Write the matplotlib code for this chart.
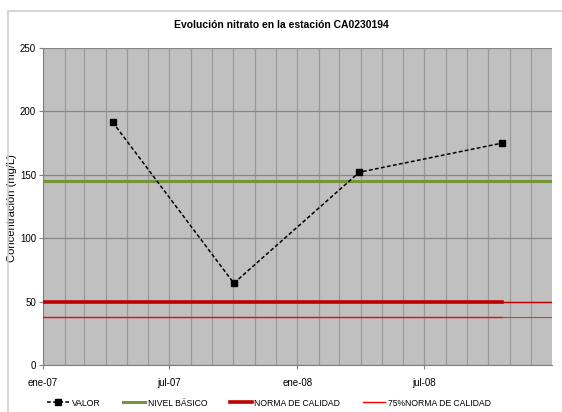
import matplotlib.pyplot as plt
import matplotlib.dates as mdates
from matplotlib.patches import Rectangle
import pandas as pd

plt.rcParams['font.family'] = ['Liberation Sans Narrow', 'Liberation Sans', 'DejaVu Sans']

# Data
fechas = pd.to_datetime(["2007-04-11", "2007-10-02", "2008-03-30", "2008-10-21"])
valor = [191.5, 64.5, 152, 175]
nivel_basico = 145
norma_calidad = 50
norma_75 = 37.5
x_ini = pd.Timestamp("2007-01-01")
x_fin = pd.Timestamp("2008-12-31 18:00")
meses_es = ["ene", "feb", "mar", "abr", "may", "jun", "jul", "ago", "sep", "oct", "nov", "dic"]

fig = plt.figure(figsize=(5.62, 4.12), dpi=100)
fig.patches.append(Rectangle((8 / 562, -0.1), 1.2, 1 - 11 / 412 + 0.1, transform=fig.transFigure,
                             facecolor="none", edgecolor="#d0d0d0", linewidth=1.2))
ax = fig.add_axes([43 / 562, 1 - 365 / 412, (552 - 43) / 562, (365 - 48) / 412])
ax.set_facecolor("#c0c0c0")

# reference lines
ax.plot([x_ini, x_fin], [nivel_basico] * 2, color="#77933c", lw=2.2, label="NIVEL BÁSICO", zorder=3)
ax.plot([x_ini, fechas[-1]], [norma_calidad] * 2, color="#c00000", lw=2.6, label="NORMA DE CALIDAD", zorder=3)
ax.plot([fechas[-1], x_fin], [norma_calidad] * 2, color="#c00000", lw=1.0, zorder=3)
ax.plot([x_ini, fechas[-1]], [norma_75] * 2, color="#ff0000", lw=1.0, label="75%NORMA DE CALIDAD", zorder=3)
ax.plot([fechas[-1], x_fin], [norma_75] * 2, color="#f03030", lw=0.8, zorder=3)

# measured values
ax.plot(fechas, valor, color="black", ls=(0, (2.5, 1.5)), lw=1.1, marker="s", markersize=4.5,
        label="VALOR", zorder=4)

ax.set_xlim(x_ini, x_fin)
ax.set_ylim(0, 250)
ax.set_yticks(range(0, 251, 50))
ax.xaxis.set_major_locator(mdates.MonthLocator(bymonth=[1, 7]))
ax.xaxis.set_minor_locator(mdates.MonthLocator())
ax.xaxis.set_major_formatter(plt.FuncFormatter(
    lambda v, p: "%s-%s" % (meses_es[mdates.num2date(v).month - 1], mdates.num2date(v).strftime("%y"))))
ax.tick_params(axis="x", which="major", labelsize=7, length=3, color="#808080", pad=6)
ax.tick_params(axis="x", which="minor", length=0)
ax.tick_params(axis="y", labelsize=7, length=3, color="#808080", pad=2)

ax.grid(True, which="both", axis="x", color="#999999", lw=0.9, zorder=0)
ax.grid(True, which="major", axis="y", color="#868686", lw=0.9, zorder=0)
ax.set_axisbelow(True)
for side in ["top", "right"]:
    ax.spines[side].set_visible(False)
ax.spines["left"].set_color("#808080")
ax.spines["bottom"].set_color("#808080")

ax.set_ylabel("Concentración (mg/L)", fontsize=8)
ax.yaxis.set_label_coords(-0.051, 0.495)
fig.text(0.5, 1 - 25 / 412, "Evolución nitrato en la estación CA0230194", ha="center", va="center",
         fontsize=7.5, fontweight="bold")

handles, labels = ax.get_legend_handles_labels()
orden = [3, 0, 1, 2]
fig.legend([handles[i] for i in orden], [labels[i] for i in orden], loc="center",
           bbox_to_anchor=(0.478, 1 - 403 / 412), ncol=4, frameon=False, fontsize=6.2,
           handlelength=2.6, columnspacing=2.6, handletextpad=0.3)

fig.savefig("out.png", dpi=100)
